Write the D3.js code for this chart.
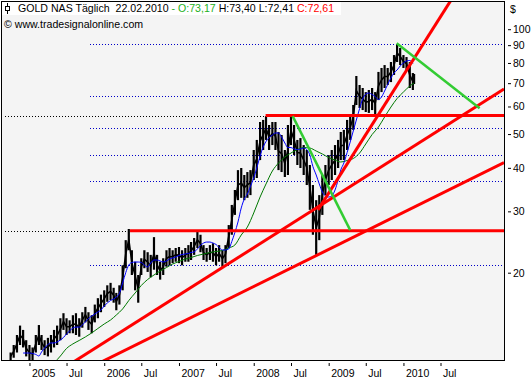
<!DOCTYPE html>
<html>
<head>
<meta charset="utf-8">
<script src="https://cdn.jsdelivr.net/npm/d3@7"></script>
<style>
  html, body { margin: 0; padding: 0; background: #fff; }
  svg { display: block; font-family: "Liberation Sans", Arial, sans-serif; }
</style>
</head>
<body>
<div id="chart"></div>
<script>
// GOLD NAS, Tageschart mit Trendlinien (Tradesignal-Look)

// ===== Daten =====
// Kurs: Spanne Tief/Hoch je Halbmonat (1. und 16.), ab 01.10.2004, letzter Punkt 22.02.2010
const priceLow = [
  11.2, 11.4, 11.8, 12.4, 12.2, 11.5, 11.2, 11.2, 11.8, 12.4, 12.0, 11.6, 11.5, 11.8, 12.2, 12.4,
  12.8, 13.7, 13.25, 13.4, 13.4, 13.25, 13.1, 13.9, 14.4, 13.7, 13.4, 14.4, 14.8, 15.4, 15.95, 16.5,
  16.7, 16.4, 15.6, 16.2, 17.8, 20.6, 23.2, 19.7, 17.8, 16.4, 19.7, 20.6, 20.1, 19.4, 20.4, 19.7,
  19.1, 19.7, 20.8, 21.0, 21.3, 21.5, 21.3, 21.0, 21.5, 21.5, 21.75, 22.5, 23.55, 22.9, 21.75, 21.5,
  21.75, 21.5, 21.0, 21.5, 20.8, 21.3, 23.55, 25.7, 29.3, 32.3, 32.8, 32.3, 32.8, 33.4, 36.9, 37.4,
  42.1, 45.0, 48.1, 45.0, 46.5, 45.0, 39.4, 38.9, 37.65, 38.15, 46.5, 43.5, 40.75, 39.95, 38.15, 35.7,
  30.3, 25.7, 22.5, 24.8, 29.3, 33.4, 35.7, 36.9, 38.15, 39.95, 42.1, 42.1, 45.0, 48.1, 51.4, 60.6,
  59.4, 58.6, 57.85, 57.5, 58.6, 56.7, 62.6, 66.0, 67.8, 69.15, 70.5, 73.9, 80.5, 78.9, 77.4, 76.4,
  67.8, 66.9, 69.6
];
const priceHigh = [
  11.8, 12.4, 13.25, 14.1, 13.7, 12.8, 12.4, 12.2, 13.25, 14.15, 13.25, 12.8, 13.0, 13.25, 13.7, 14.1,
  14.8, 15.3, 14.8, 14.6, 15.1, 15.3, 14.8, 15.4, 15.95, 15.4, 15.1, 16.2, 16.9, 17.3, 17.8, 18.4,
  18.7, 18.1, 17.5, 18.4, 21.0, 24.8, 26.7, 23.2, 21.5, 19.7, 22.0, 23.2, 22.9, 22.5, 25.3, 22.5,
  21.5, 22.0, 23.2, 23.55, 23.2, 23.55, 23.7, 23.2, 23.55, 24.0, 24.5, 25.15, 26.2, 25.7, 24.0, 23.55,
  24.0, 24.3, 23.55, 24.0, 23.2, 24.0, 27.4, 31.3, 34.55, 39.4, 39.95, 38.15, 38.9, 39.4, 45.0, 48.1,
  54.15, 54.9, 56.3, 53.1, 54.15, 54.15, 50.7, 49.7, 45.0, 53.1, 56.3, 53.1, 48.1, 48.7, 46.5, 45.0,
  40.75, 35.7, 32.3, 33.4, 38.15, 40.75, 43.5, 45.0, 46.5, 48.1, 50.7, 51.4, 54.9, 56.7, 60.6, 73.4,
  69.15, 67.8, 66.0, 66.9, 67.8, 66.0, 75.4, 77.4, 78.9, 77.4, 80.5, 84.3, 90.7, 88.3, 84.3, 83.2,
  80.5, 74.85, 74.4
];

// Blauer Durchschnitt: Halbmonatswerte ab 01.12.2004
const blueMA = [
  11.76, 11.76, 11.76, 11.72, 11.65, 11.53, 11.84, 12.16, 12.44, 12.57, 12.57, 12.65, 12.82, 13.03,
  13.34, 13.61, 13.87, 13.96, 13.96, 14.15, 14.44, 14.77, 15.02, 15.22, 15.42, 15.63, 16.05, 16.37,
  16.64, 16.81, 17.03, 17.43, 18.69, 20.01, 21.04, 21.39, 21.46, 21.46, 21.39, 21.04, 20.76, 21.32,
  21.75, 21.75, 21.61, 21.46, 21.61, 21.90, 22.04, 22.19, 22.41, 22.56, 22.63, 22.71, 22.86, 22.94,
  23.40, 23.94, 24.33, 24.49, 24.49, 24.33, 24.10, 23.63, 23.24, 23.24, 23.40, 24.58, 26.08, 27.96,
  30.68, 32.55, 33.65, 35.36, 37.40, 39.95, 43.25, 45.90, 47.60, 48.87, 49.69, 50.36, 50.36, 49.04,
  47.13, 45.74, 45.74, 45.30, 45.15, 45.30, 45.60, 45.15, 43.54, 40.35, 38.15, 35.95, 34.10, 33.20,
  32.98, 33.20, 34.55, 36.91, 39.43, 41.29, 44.26, 47.45, 51.02, 54.87, 59.20, 63.04, 65.15, 65.59,
  64.94, 64.09, 62.83, 63.88, 66.46, 69.38, 72.43, 74.85, 76.36, 78.41, 79.97, 81.04, 81.31, 79.71
];

// Gruener Durchschnitt: Monatswerte ab 01.05.2005, letzter Wert 22.02.2010
const greenMA = [
  11.01, 11.53, 12.12, 12.49, 12.78, 13.08, 13.43, 13.83, 14.25, 14.63, 15.12, 15.74, 16.64, 17.49,
  18.38, 19.12, 19.70, 20.23, 20.69, 21.18, 21.53, 21.89, 22.11, 22.41, 22.63, 22.86, 23.01, 23.16,
  23.55, 24.02, 25.66, 27.05, 29.68, 32.98, 35.95, 39.17, 41.29, 42.97, 44.12, 45.15, 45.75, 45.60,
  44.70, 43.83, 42.82, 42.12, 41.57, 41.98, 42.54, 44.12, 46.82, 49.85, 52.39, 55.97, 59.79, 63.25,
  66.02, 68.70, 70.07
];

// Fibonacci-Retracements (blau gepunktet) ab Okt. 2005
const fibLevels = [90.7, 64.2, 51.9, 43.6, 36.7, 21.0];
const fibFrom = "2005-10-23";

// Rote Trendlinien: zwei Ankerpunkte [Datum, Kurs], Verlaengerung
const redLines = [
  { a: ["2008-11-10", 30.3], b: ["2010-05-21", 99.5], extend: "right" },
  { a: ["2008-11-10", 30.9], b: ["2010-06-28", 51.5], extend: "both" },
  { a: ["2008-10-26", 22.3], b: ["2011-05-07", 41.4], extend: "both" },
  { a: ["2008-02-28", 56.5], b: ["2011-05-07", 56.5], extend: "none" },
  { a: ["2006-05-07", 26.4], b: ["2011-05-07", 26.4], extend: "none" }
];
// schwarz gepunktete Fortsetzung der Horizontalen nach links
const supportFrom = "2004-09-03";
const supportLines = [[56.5, "2008-02-28"], [26.4, "2006-05-07"]];

// Gruene Abwaertslinien
const greenLines = [
  [["2008-07-09", 56.3], ["2009-04-16", 26.5]],
  [["2009-11-29", 91.1], ["2011-01-08", 59.3]]
];

const yTicks = [20, 30, 40, 50, 60, 70, 80, 90, 100];
const xTicks = [
  ["2005-01-01", "2005"], ["2005-07-01", "Jul"], ["2006-01-01", "2006"], ["2006-07-01", "Jul"],
  ["2007-01-01", "2007"], ["2007-07-01", "Jul"], ["2008-01-01", "2008"], ["2008-07-01", "Jul"],
  ["2009-01-01", "2009"], ["2009-07-01", "Jul"], ["2010-01-01", "2010"], ["2010-07-01", "Jul"]
];

// ===== Datumsreihen =====
const parse = d3.utcParse("%Y-%m-%d");
const halfMonths = [];
d3.utcMonth.range(Date.UTC(2004, 9, 1), Date.UTC(2010, 2, 1)).forEach(m => {
  halfMonths.push(m, new Date(Date.UTC(m.getUTCFullYear(), m.getUTCMonth(), 16)));
});
halfMonths.push(parse("2010-02-22"));
const priceData = halfMonths.map((d, i) => ({ date: d, low: priceLow[i], high: priceHigh[i] }));
const blueData = halfMonths.slice(4, 4 + blueMA.length).map((d, i) => ({ date: d, v: blueMA[i] }));
const greenDates = d3.utcMonth.range(Date.UTC(2005, 4, 1), Date.UTC(2010, 2, 1));
greenDates.push(parse("2010-02-22"));
const greenData = greenDates.map((d, i) => ({ date: d, v: greenMA[i] }));

// ===== Aufbau =====
const W = 532, H = 380;
const plot = { left: 1, top: 1, right: 504, bottom: 360 };

const svg = d3.select("#chart").append("svg")
  .attr("width", W)
  .attr("height", H);

const x = d3.scaleUtc()
  .domain([parse("2004-08-15"), parse("2011-05-07")])
  .range([plot.left, plot.right]);

const y = d3.scaleLog()
  .domain([11.23, 120.5])
  .range([plot.bottom, plot.top]);

svg.append("rect").attr("width", W).attr("height", H).attr("fill", "#fff");
svg.append("rect")
  .attr("x", plot.left + 0.5).attr("y", plot.top + 0.5)
  .attr("width", plot.right - plot.left).attr("height", plot.bottom - plot.top)
  .attr("fill", "#f4f4f4");

svg.append("clipPath").attr("id", "clip")
  .append("rect")
  .attr("x", plot.left + 1).attr("y", plot.top + 1)
  .attr("width", plot.right - plot.left - 1).attr("height", plot.bottom - plot.top - 1);

const g = svg.append("g").attr("clip-path", "url(#clip)");
const crisp = v => Math.round(v) + 0.5;

// Fibonacci-Linien
g.selectAll(".fib")
  .data(fibLevels)
  .enter().append("line")
    .attr("x1", x(parse(fibFrom)))
    .attr("x2", plot.right)
    .attr("y1", d => crisp(y(d)))
    .attr("y2", d => crisp(y(d)))
    .attr("stroke", "#0000c8")
    .attr("stroke-dasharray", "1,2")
    .attr("shape-rendering", "crispEdges");

// schwarze Punktlinien links der Horizontalen
g.selectAll(".support")
  .data(supportLines)
  .enter().append("line")
    .attr("x1", x(parse(supportFrom)))
    .attr("x2", d => x(parse(d[1])))
    .attr("y1", d => crisp(y(d[0])))
    .attr("y2", d => crisp(y(d[0])))
    .attr("stroke", "#000")
    .attr("stroke-dasharray", "1,2")
    .attr("shape-rendering", "crispEdges");

// Kurs: Hoch-Tief-Striche plus Verbindungslinie
g.selectAll(".bar")
  .data(priceData)
  .enter().append("line")
    .attr("x1", d => x(d.date)).attr("x2", d => x(d.date))
    .attr("y1", d => y(d.low)).attr("y2", d => y(d.high))
    .attr("stroke", "#000")
    .attr("stroke-width", 2.2);

g.append("path").datum(priceData)
  .attr("d", d3.line().x(d => x(d.date)).y(d => y(Math.sqrt(d.low * d.high))))
  .attr("fill", "none")
  .attr("stroke", "#000")
  .attr("stroke-width", 1.6);

// Durchschnitte
const maLine = d3.line().x(d => x(d.date)).y(d => y(d.v)).curve(d3.curveMonotoneX);
g.append("path").datum(greenData)
  .attr("d", maLine).attr("fill", "none").attr("stroke", "#007800").attr("stroke-width", 1);
g.append("path").datum(blueData)
  .attr("d", maLine).attr("fill", "none").attr("stroke", "#0000ff").attr("stroke-width", 1);

// Rote Trendlinien
function segment(p, q, mode) {
  const x1 = x(parse(p[0])), y1 = y(p[1]), x2 = x(parse(q[0])), y2 = y(q[1]);
  const k = (y2 - y1) / (x2 - x1);
  const xs = mode === "both" ? plot.left : x1;
  const xe = mode === "none" ? x2 : plot.right;
  return [[xs, y1 + k * (xs - x1)], [xe, y1 + k * (xe - x1)]];
}
g.selectAll(".red")
  .data(redLines)
  .enter().append("path")
    .attr("d", d => d3.line()(segment(d.a, d.b, d.extend)))
    .attr("stroke", "#ff0000")
    .attr("stroke-width", 3)
    .attr("fill", "none");

g.selectAll(".greenline")
  .data(greenLines)
  .enter().append("path")
    .attr("d", d => d3.line()(segment(d[0], d[1], "none")))
    .attr("stroke", "#33cc33")
    .attr("stroke-width", 2.5)
    .attr("fill", "none");

// Rahmen
svg.append("rect")
  .attr("x", plot.left + 0.5).attr("y", plot.top + 0.5)
  .attr("width", plot.right - plot.left).attr("height", plot.bottom - plot.top)
  .attr("fill", "none").attr("stroke", "#000");

// ===== Achsen =====
const yAxis = svg.append("g")
  .attr("transform", `translate(${plot.right + 4},0)`)
  .call(d3.axisRight(y).tickValues(yTicks).tickFormat(d3.format("d")).tickSize(3).tickPadding(2));
yAxis.select(".domain").remove();
yAxis.selectAll("line").attr("stroke", "#000");
yAxis.selectAll("text").style("font-size", "10.5px").attr("fill", "#000")
  .style("font-family", "'Liberation Sans', Arial, sans-serif");

const xAxis = svg.append("g")
  .attr("transform", `translate(0,${plot.bottom + 3})`)
  .call(d3.axisBottom(x).tickValues(xTicks.map(d => parse(d[0])))
    .tickFormat((d, i) => xTicks[i][1]).tickSize(3));
xAxis.select(".domain").remove();
xAxis.selectAll("line").attr("stroke", "#000");
xAxis.selectAll("text")
  .attr("text-anchor", "start")
  .attr("x", 2).attr("y", 14).attr("dy", null)
  .attr("fill", "#000")
  .style("font-size", "10.5px")
  .style("font-family", "'Liberation Sans', Arial, sans-serif");

svg.append("text").attr("x", 510).attr("y", 13)
  .style("font-size", "10.5px").text("$");

// ===== Titel =====
svg.append("rect").attr("x", 2).attr("y", 2).attr("width", 339).attr("height", 13).attr("fill", "#fff");
svg.append("line").attr("x1", 7.5).attr("x2", 7.5).attr("y1", 3).attr("y2", 14).attr("stroke", "#000");
svg.append("rect").attr("x", 5.5).attr("y", 6.5).attr("width", 4).attr("height", 4)
  .attr("fill", "#fff").attr("stroke", "#000");

const title = svg.append("text")
  .attr("x", 18).attr("y", 12)
  .attr("xml:space", "preserve")
  .style("white-space", "pre")
  .style("font-size", "10.6px");
const parts = [
  ["GOLD NAS Täglich  22.02.2010 ", "#000"],
  ["- O:73,17", "#22b022"],
  [" H:73,40 L:72,41 ", "#000"],
  ["C:72,61", "#ff0000"]
];
parts.forEach(p => title.append("tspan").attr("fill", p[1]).text(p[0]));

svg.append("text").attr("x", 4).attr("y", 28)
  .style("font-size", "10.6px").attr("fill", "#000")
  .text("© www.tradesignalonline.com");
</script>
</body>
</html>
